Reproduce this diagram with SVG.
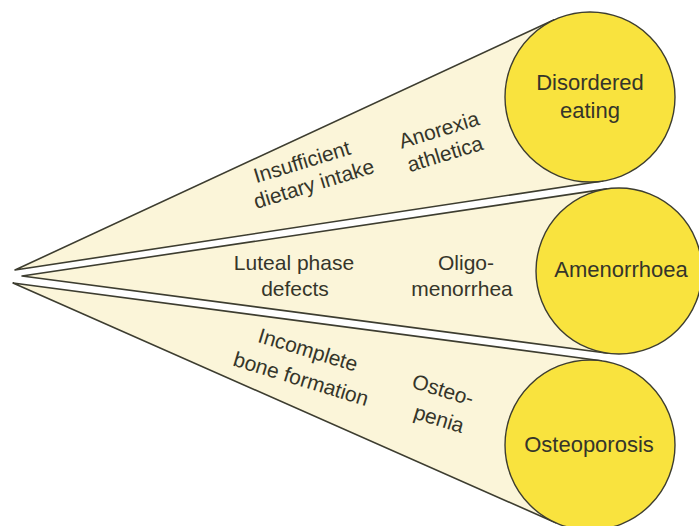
<svg xmlns="http://www.w3.org/2000/svg" width="699" height="526" viewBox="0 0 699 526">
  <style>
    .cone { fill: #fbf5d9; stroke: #3d3d30; stroke-width: 1.6; stroke-linejoin: round; }
    .circ { fill: #f9e33e; stroke: #3d3d30; stroke-width: 1.4; }
    text { font-family: "Liberation Sans", Arial, sans-serif; font-size: 21px; fill: #35352a; text-anchor: middle; }
    .big { font-size: 22px; }
  </style>
  <rect width="699" height="526" fill="#ffffff"/>
  <g id="connectors">
    <polygon class="cone" points="15,270 554.2,19.8 602.7,181"/>
    <polygon class="cone" points="22,276 606.8,188.9 608.1,353.3"/>
    <polygon class="cone" points="13,283 601.2,360.7 555.7,522.7"/>
  </g>
  <g id="cone-labels">
    <text transform="translate(302,162) rotate(-17)" y="7">Insufficient</text>
    <text transform="translate(314,184) rotate(-17)" y="7">dietary intake</text>
    <text transform="translate(439,130) rotate(-17)" y="7">Anorexia</text>
    <text transform="translate(445,154) rotate(-17)" y="7">athletica</text>
    <text x="294" y="270">Luteal phase</text>
    <text x="295" y="296">defects</text>
    <text x="466" y="270">Oligo-</text>
    <text x="462" y="296">menorrhea</text>
    <text transform="translate(308,350) rotate(17)" y="7">Incomplete</text>
    <text transform="translate(301,379) rotate(17)" y="7">bone formation</text>
    <text transform="translate(443,390) rotate(17)" y="7">Osteo-</text>
    <text transform="translate(439,419) rotate(17)" y="7">penia</text>
  </g>
  <g id="node-disordered-eating">
    <circle class="circ" cx="590" cy="97" r="85"/>
    <text class="big" x="590" y="90">Disordered</text>
    <text class="big" x="590" y="118">eating</text>
  </g>
  <g id="node-amenorrhoea">
    <circle class="circ" cx="619" cy="271" r="83"/>
    <text class="big" x="621" y="277">Amenorrhoea</text>
  </g>
  <g id="node-osteoporosis">
    <circle class="circ" cx="590" cy="445" r="85"/>
    <text class="big" x="589" y="452">Osteoporosis</text>
  </g>
</svg>
